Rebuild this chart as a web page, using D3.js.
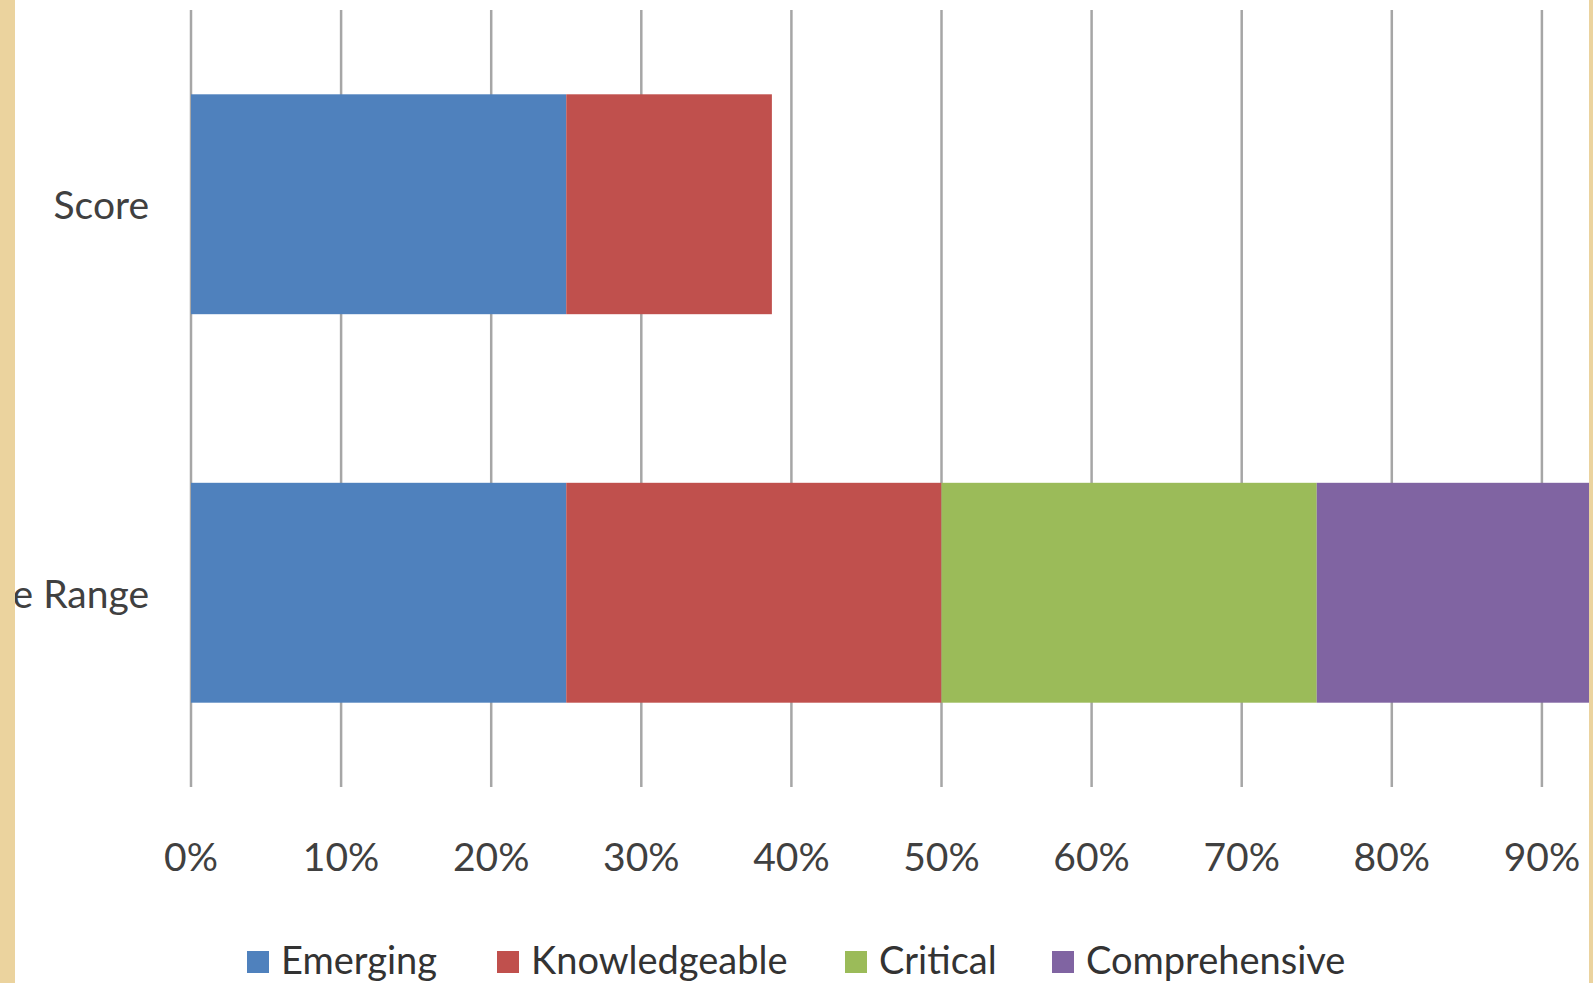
<!DOCTYPE html>
<html>
<head>
<meta charset="utf-8">
<script src="https://cdn.jsdelivr.net/npm/d3@7"></script>
<style>
  html, body { margin: 0; padding: 0; background: #ffffff; }
  svg { display: block; }
  text { font-family: Lato, "Open Sans", sans-serif; }
</style>
</head>
<body>
<svg id="chart" width="1593" height="983"></svg>
<script>
// ---- data ----
const categories = ["Score", "Score Range"];
const seriesNames = ["Emerging", "Knowledgeable", "Critical", "Comprehensive"];
const emerging = [25, 25];
const knowledgeable = [13.7, 25];
const critical = [0, 25];
const comprehensive = [0, 25];
const tickValues = [0, 10, 20, 30, 40, 50, 60, 70, 80, 90];
const tickLabels = ["0%", "10%", "20%", "30%", "40%", "50%", "60%", "70%", "80%", "90%"];
const seriesColors = ["#4F81BD", "#C0504D", "#9BBB59", "#8064A2"];

const rows = categories.map((c, i) => ({
  cat: c,
  Emerging: emerging[i],
  Knowledgeable: knowledgeable[i],
  Critical: critical[i],
  Comprehensive: comprehensive[i]
}));

const W = 1593, H = 983;
const svg = d3.select("#chart");

// layout
const plotLeft = 191, plotRight = 1692, plotTop = 10, plotBottom = 787;
const x = d3.scaleLinear().domain([0, 100]).range([plotLeft, plotRight]);
const y = d3.scaleBand().domain(categories).range([plotTop, plotBottom])
  .paddingInner(0.434).paddingOuter(0.217);
const color = d3.scaleOrdinal().domain(seriesNames).range(seriesColors);

svg.append("rect").attr("width", W).attr("height", H).attr("fill", "#ffffff");

const defs = svg.append("defs");
defs.append("clipPath").attr("id", "inner")
  .append("rect").attr("x", 15).attr("y", 0).attr("width", 1589 - 15).attr("height", H);

const g = svg.append("g").attr("clip-path", "url(#inner)");

// gridlines
g.append("g").selectAll("line").data(tickValues).join("line")
  .attr("x1", d => x(d)).attr("x2", d => x(d))
  .attr("y1", plotTop).attr("y2", plotBottom)
  .attr("stroke", "#A6A6A6").attr("stroke-width", 2.5);

// bars
const stacked = d3.stack().keys(seriesNames)(rows);
g.append("g").selectAll("g").data(stacked).join("g")
  .attr("fill", d => color(d.key))
  .selectAll("rect").data(d => d.filter(p => p[1] > p[0])).join("rect")
  .attr("x", d => x(d[0]))
  .attr("width", d => x(d[1]) - x(d[0]))
  .attr("y", d => y(d.data.cat))
  .attr("height", y.bandwidth());

// x tick labels
g.append("g").selectAll("text").data(tickValues).join("text")
  .attr("x", d => x(d)).attr("y", 856)
  .attr("text-anchor", "middle").attr("dominant-baseline", "central")
  .attr("font-size", 39).attr("fill", "#404040")
  .text((d, i) => tickLabels[i]);

// category labels
g.append("g").selectAll("text").data(categories).join("text")
  .attr("x", 149).attr("y", d => y(d) + y.bandwidth() / 2)
  .attr("text-anchor", "end").attr("dominant-baseline", "central")
  .attr("font-size", 39).attr("fill", "#404040")
  .text(d => d);

// legend
const legendX = [247, 497, 845, 1052];
const lg = g.append("g");
const items = lg.selectAll("g").data(seriesNames).join("g")
  .attr("transform", (d, i) => `translate(${legendX[i]},0)`);
items.append("rect").attr("x", 0).attr("y", 951).attr("width", 22).attr("height", 22)
  .attr("fill", d => color(d));
items.append("text").attr("x", 34).attr("y", 974)
  .attr("font-size", 38).attr("fill", "#333333")
  .text(d => d);

// tan border strips
svg.append("rect").attr("x", 0).attr("y", 0).attr("width", 15).attr("height", H).attr("fill", "#EBD39E");
svg.append("rect").attr("x", 1589).attr("y", 0).attr("width", 4).attr("height", H).attr("fill", "#EBD39E");
</script>
</body>
</html>
